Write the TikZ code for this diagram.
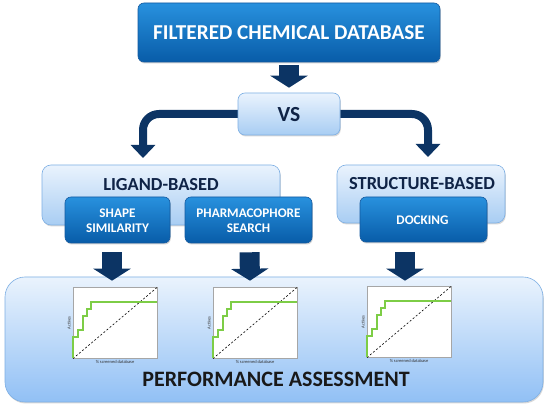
\documentclass[tikz,border=0pt]{standalone}
\usepackage{fontspec}
\setmainfont{Carlito}
\usetikzlibrary{arrows.meta,shadows,calc}
\definecolor{navy}{RGB}{12,52,100}
\definecolor{dbtop}{RGB}{40,145,222}
\definecolor{dbbot}{RGB}{8,92,168}
\definecolor{dbdraw}{RGB}{20,90,160}
\definecolor{lbtop}{RGB}{234,243,253}
\definecolor{lbbot}{RGB}{168,205,243}
\definecolor{lbdraw}{RGB}{125,175,228}
\definecolor{pbbot}{RGB}{145,192,245}
\definecolor{curvegreen}{RGB}{125,205,70}
\definecolor{darktext}{RGB}{15,35,70}
\begin{document}
\begin{tikzpicture}[x=1pt,y=-1pt,
  darkbox/.style={rectangle,rounded corners=6pt,draw=dbdraw,line width=0.6pt,
    top color=dbtop,bottom color=dbbot,inner sep=0pt,text=white,align=center,
    drop shadow={shadow xshift=0.8pt,shadow yshift=-1.5pt,opacity=0.35}},
  lightbox/.style={rectangle,rounded corners=9pt,draw=lbdraw,line width=0.6pt,
    top color=lbtop,bottom color=lbbot,inner sep=0pt,
    drop shadow={shadow xshift=0.8pt,shadow yshift=-1.5pt,opacity=0.3}},
  blockarrow/.style={draw=navy,line width=20pt,-{Triangle[width=37pt,length=12pt]}},
  bendarrow/.style={draw=navy,line width=8pt,rounded corners=16pt,-{Triangle[width=24pt,length=13pt]}},
  headtext/.style={font=\fontsize{21.2}{23}\selectfont\bfseries,text=white},
  midtext/.style={font=\fontsize{18.4}{20}\selectfont\bfseries,text=darktext},
  smalltext/.style={font=\fontsize{13.2}{15}\selectfont\bfseries,text=white,align=center},
  axislabel/.style={font=\fontsize{4.5}{4.5}\selectfont,text=black!80,inner sep=0pt},
]
\useasboundingbox (0,0) rectangle (550,406);
\fill[white] (0,0) rectangle (550,406);

% bottom panel
\node[lightbox,rounded corners=20pt,bottom color=pbbot,minimum width=538pt,minimum height=125pt] (perf) at (274,339.5) {};

% boxes
\node[darkbox,minimum width=302pt,minimum height=59pt] (top) at (289,32.5) {};
\node[headtext] (toptxt) at (289,33) {FILTERED CHEMICAL DATABASE};

\coordinate (lt) at (143,158);
\coordinate (rt) at (428,157);

\draw[bendarrow] (289,114) -| (lt);
\draw[bendarrow] (289,114) -| (rt);
\node[lightbox,rounded corners=7pt,minimum width=102pt,minimum height=42pt] (vs) at (289,114) {};
\node[font=\fontsize{21.5}{22}\selectfont\bfseries,text=darktext] (vstxt) at (289,114.5) {VS};

\draw[blockarrow] ([yshift=-3pt]top.south) -- ([yshift=5pt]vs.north);

\node[lightbox,minimum width=238pt,minimum height=60pt] (lig) at (161,195) {};
\node[midtext] (ligtxt) at (161,184.5) {LIGAND-BASED};
\node[lightbox,minimum width=168pt,minimum height=58pt] (str) at (421,194) {};
\node[midtext] (strtxt) at (422,183.5) {STRUCTURE-BASED};

\node[darkbox,minimum width=105pt,minimum height=46pt] (shape) at (117.5,220) {};
\node[smalltext] (shapetxt) at (117.5,220.5) {SHAPE\\SIMILARITY};
\node[darkbox,minimum width=127pt,minimum height=46pt] (pharm) at (248.5,220) {};
\node[smalltext] (pharmtxt) at (248.5,220.5) {PHARMACOPHORE\\SEARCH};
\node[darkbox,minimum width=127pt,minimum height=45pt] (dock) at (423.5,219.5) {};
\node[smalltext] (docktxt) at (422.5,220) {DOCKING};

\draw[blockarrow] ([xshift=-5.5pt,yshift=-9pt]shape.south) -- ([xshift=-162pt,yshift=-4pt]perf.north);
\draw[blockarrow] ([xshift=1pt,yshift=-9pt]pharm.south) -- ([xshift=-24pt,yshift=-4pt]perf.north);
\draw[blockarrow] ([xshift=-18.5pt,yshift=-9.5pt]dock.south) -- ([xshift=131pt,yshift=-4pt]perf.north);

% ROC graphs
\foreach \n/\gx/\gy in {1/73/287,2/213/287,3/367/286}{
  \begin{scope}[shift={(\gx,\gy)}]
    \node[draw=black!35,fill=white,line width=0.6pt,minimum width=84pt,minimum height=71pt,inner sep=0pt,anchor=north west] (g\n) at (0,0) {};
    \draw[black,line width=0.6pt,dash pattern=on 2pt off 2pt] (g\n.south west) -- (g\n.north east);
    \draw[curvegreen,line width=1.5pt] (0,71) -- (0,50) -- (5,50) -- (5,43) -- (10,43) -- (10,29) -- (14,29) -- (14,22) -- (18,22) -- (18,15) -- (84,15);
    \node[axislabel,rotate=90] (ya\n) at (-4,36) {Actives};
    \node[axislabel] (xa\n) at (42,75) {\% screened database};
  \end{scope}
}

\node[font=\fontsize{22}{24}\selectfont\bfseries,text=black!90] (perftxt) at (276,379) {PERFORMANCE ASSESSMENT};
\end{tikzpicture}
\end{document}
